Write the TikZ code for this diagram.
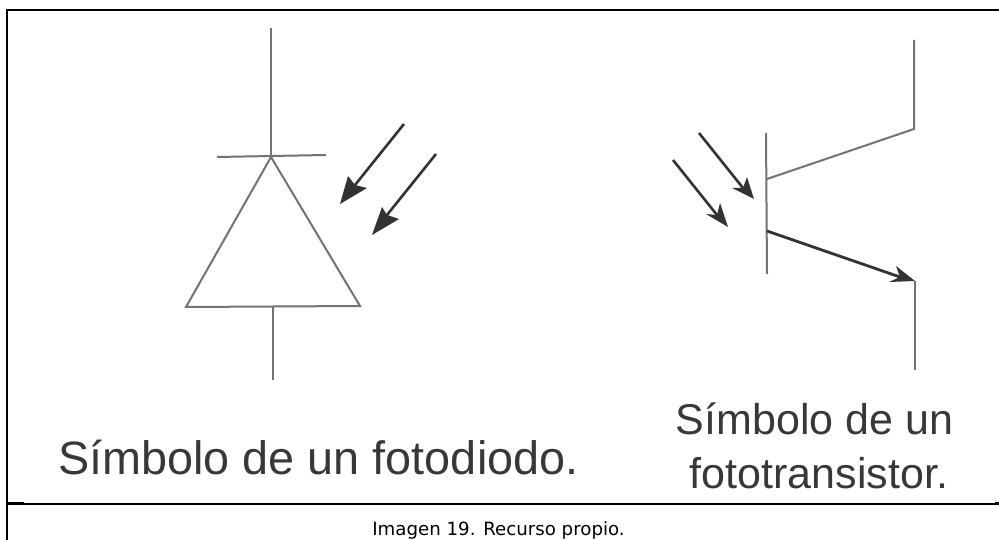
\documentclass[tikz,border=0pt]{standalone}
\usepackage{fontspec}
\setmainfont{Liberation Sans}
\newfontfamily\capfont{DejaVu Sans}
\definecolor{lineg}{gray}{0.45}
\definecolor{arrowg}{gray}{0.2}
\definecolor{textg}{gray}{0.22}
\tikzset{
  frameline/.style={line width=2pt,black},
  symline/.style={line width=2pt,lineg},
  ray/.style={line width=2.6pt,arrowg},
  headfill/.style={fill=arrowg,draw=none},
  bigleft/.style={font=\fontsize{46.8}{50}\selectfont,text=textg,inner sep=0pt},
  bigright/.style={font=\fontsize{43}{50}\selectfont,text=textg,inner sep=0pt},
  captext/.style={font=\capfont\fontsize{18.2}{20}\selectfont,text=black,inner sep=0pt}
}
\begin{document}
\begin{tikzpicture}[x=1pt,y=-1pt]
\useasboundingbox[fill=white] (0,0) rectangle (999,540);
% frame
\coordinate (tl) at (7,10); \coordinate (tr) at (999,10);
\coordinate (ml) at (7,504); \coordinate (mr) at (999,504);
\coordinate (bl) at (7,540);
\coordinate (thl) at (24,503.5); \coordinate (thr) at (995,503.5);
\draw[frameline] (bl) -- (tl) -- (tr);
\draw[frameline] (ml) -- (mr);
\draw[line width=3pt,black] (ml |- thl) -- (thl);
\draw[line width=3pt,black] (thr) -- (mr |- thr);
% photodiode
\coordinate (dtop) at (271,28); \coordinate (apex) at (271,157);
\coordinate (barl) at (217,157); \coordinate (barr) at (326,155);
\coordinate (tril) at (186,307); \coordinate (trir) at (360,306);
\coordinate (dmid) at (273,307); \coordinate (dbot) at (273,380);
\draw[symline] (dtop) -- (apex);
\draw[symline] (barl) -- (barr);
\draw[symline,line join=miter] (apex) -- (tril) -- (trir) -- cycle;
\draw[symline] (dmid) -- (dbot);
% diode rays
\coordinate (r1s) at (404,124); \coordinate (r1e) at (340,204);
\coordinate (r2s) at (436,154); \coordinate (r2e) at (372,235);
\draw[ray] (r1s) -- (355,185);
\fill[headfill] (r1e) -- (348,176) -- (355,185) -- (367,188) -- cycle;
\draw[ray] (r2s) -- (387,215);
\fill[headfill] (r2e) -- (382,207) -- (387,215) -- (399,219) -- cycle;
% phototransistor
\coordinate (base1) at (766,133); \coordinate (base2) at (767,274);
\coordinate (cj) at (767,179); \coordinate (cb) at (914,129); \coordinate (ct) at (914,40);
\coordinate (ej) at (767,231); \coordinate (eb) at (915,281); \coordinate (ee) at (915,370);
\draw[symline] (base1) -- (base2);
\draw[symline] (ct) -- (cb) -- (cj);
\draw[line width=2.8pt,arrowg] (ej) -- (900,277);
\fill[headfill] (eb) -- (896,266) -- (900,277) -- (889,282) -- cycle;
\draw[symline] (eb) -- (ee);
% phototransistor rays
\coordinate (r3s) at (699,133); \coordinate (r3e) at (754,199);
\coordinate (r4s) at (673,160); \coordinate (r4e) at (728,227);
\draw[ray] (r3s) -- (743,188);
\fill[headfill] (r3e) -- (747,177) -- (743,188) -- (732,188) -- cycle;
\draw[ray] (r4s) -- (717,215);
\fill[headfill] (r4e) -- (720,203) -- (717,215) -- (706,214) -- cycle;
% text
\node[bigleft,anchor=base west] (t1) at (58,474) {Símbolo de un fotodiodo.};
\node[bigright,anchor=base] (t2a) at (814.5,434) {Símbolo de un};
\node[bigright,anchor=base] (t2b) at (819,488) {fototransistor.};
\node[captext,anchor=base] (cap) at (498.5,535) {Imagen 19. Recurso propio.};
\end{tikzpicture}
\end{document}
